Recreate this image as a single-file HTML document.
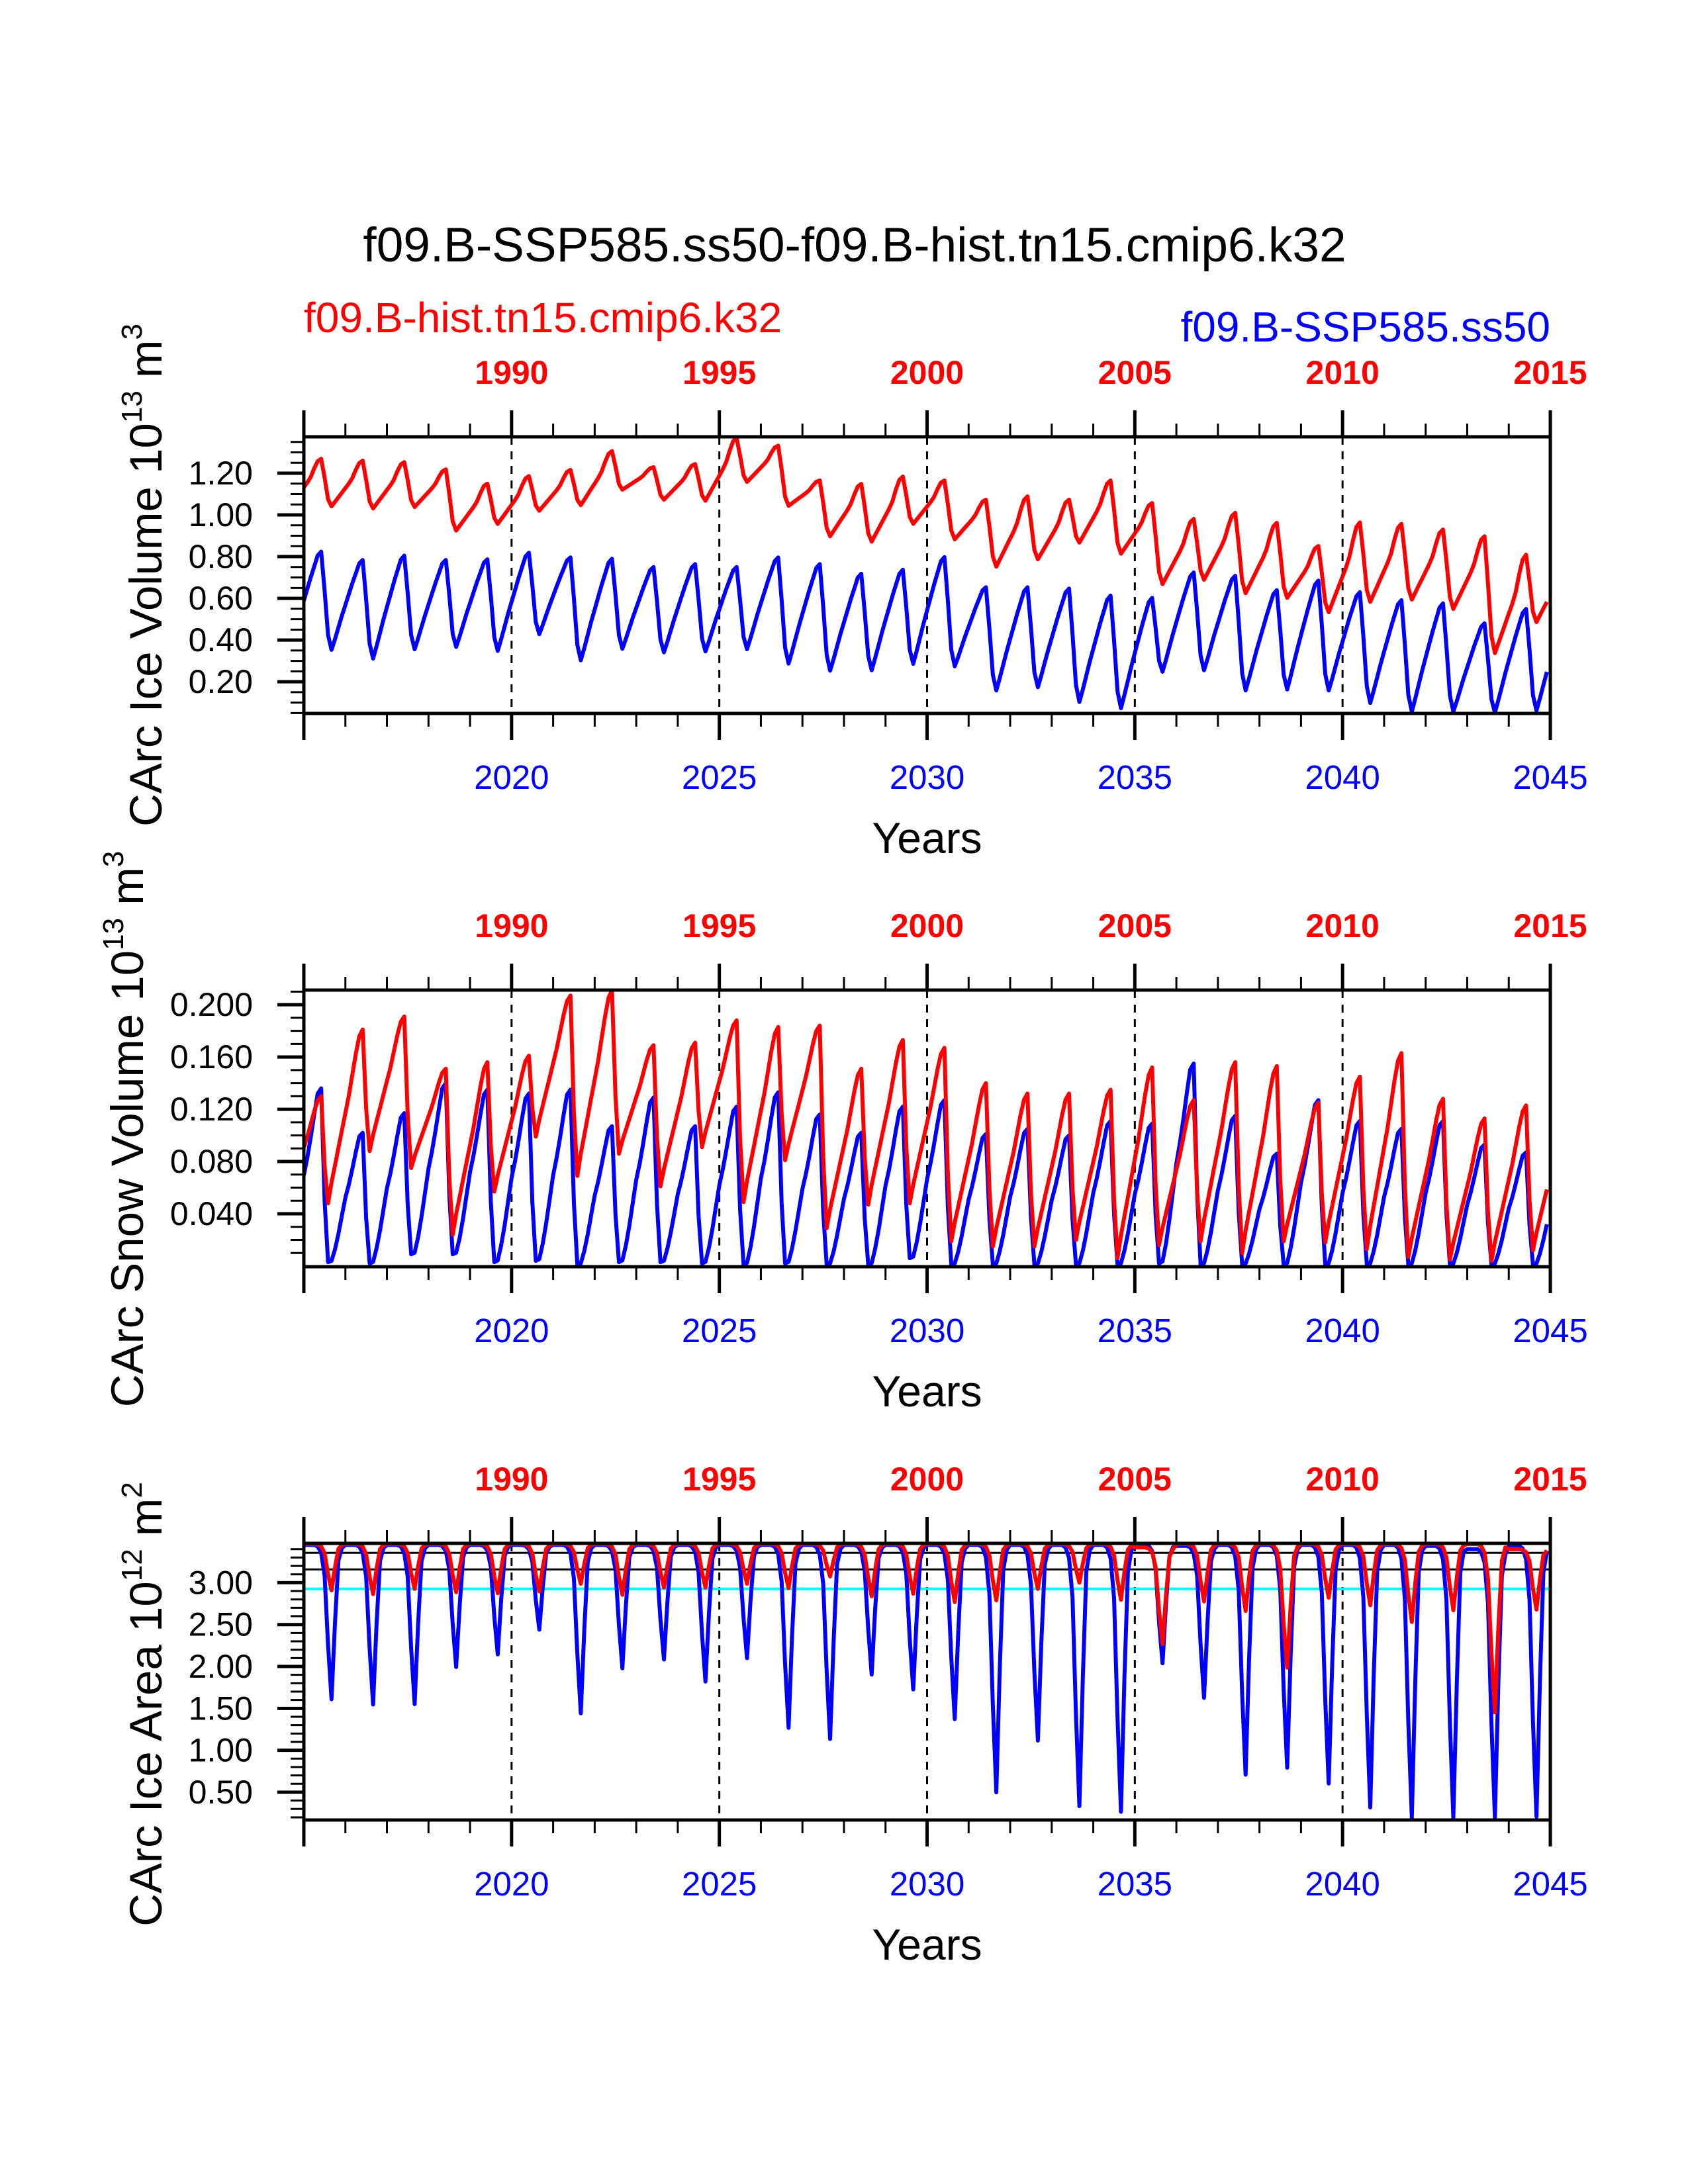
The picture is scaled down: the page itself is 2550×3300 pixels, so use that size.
<!DOCTYPE html>
<html><head><meta charset="utf-8"><style>
html,body{margin:0;padding:0;background:#fff;}
svg{display:block;font-family:"Liberation Sans",Arial,sans-serif;}
</style></head><body>
<svg id="chart" xmlns="http://www.w3.org/2000/svg" width="2550" height="3300" viewBox="0 0 2550 3300">
<rect x="0" y="0" width="2550" height="3300" fill="#fff"/>
<text x="1291" y="395" font-size="73" text-anchor="middle" fill="#000">f09.B-SSP585.ss50-f09.B-hist.tn15.cmip6.k32</text>
<text x="459" y="502" font-size="64" fill="#ff0000">f09.B-hist.tn15.cmip6.k32</text>
<text x="2342" y="516" font-size="64" text-anchor="end" fill="#0000ff">f09.B-SSP585.ss50</text>
<g id="plots"></g>
</svg>
<script>
// ---------- data (annual extremes, 2015..2044) ----------
const years = [2015,2016,2017,2018,2019,2020,2021,2022,2023,2024,2025,2026,2027,2028,2029,2030,2031,2032,2033,2034,2035,2036,2037,2038,2039,2040,2041,2042,2043,2044];
const topYearLabels = ["1990","1995","2000","2005","2010","2015"];
const bottomYearLabels = ["2020","2025","2030","2035","2040","2045"];

// Ice volume (1e13 m3)
const iceVolSspMax = [0.824,0.784,0.805,0.784,0.787,0.819,0.796,0.790,0.750,0.764,0.750,0.796,0.764,0.718,0.737,0.798,0.653,0.653,0.647,0.613,0.602,0.724,0.708,0.639,0.685,0.629,0.591,0.576,0.480,0.549];
const iceVolSspMin = [0.353,0.311,0.356,0.367,0.348,0.428,0.303,0.358,0.341,0.345,0.356,0.287,0.253,0.255,0.286,0.274,0.158,0.174,0.103,0.073,0.248,0.255,0.158,0.163,0.158,0.098,0.057,0.057,0.052,0.062];
const iceVolHistMax = [1.269,1.260,1.253,1.218,1.150,1.186,1.216,1.306,1.229,1.244,1.369,1.332,1.165,1.149,1.184,1.165,1.073,1.089,1.073,1.165,1.057,0.981,1.010,0.962,0.851,0.964,0.957,0.930,0.898,0.809];
const iceVolHistMin = [1.041,1.031,1.038,0.925,0.957,1.020,1.047,1.121,1.073,1.068,1.158,1.044,0.898,0.872,0.957,0.883,0.752,0.787,0.867,0.814,0.668,0.689,0.625,0.602,0.533,0.583,0.594,0.549,0.337,0.486];
// Snow volume (1e13 m3)
const snowSspMax = [0.136,0.102,0.117,0.140,0.135,0.132,0.135,0.107,0.129,0.107,0.122,0.133,0.116,0.102,0.122,0.127,0.101,0.105,0.100,0.111,0.109,0.155,0.115,0.086,0.127,0.111,0.105,0.111,0.093,0.087];
const snowSspMin = [0.003,0.002,0.009,0.009,0.003,0.004,0.001,0.003,0.003,0.002,0.001,0.002,0.001,0.001,0.006,0.001,0.001,0.001,0.001,0.001,0.002,0.001,0.001,0.001,0.001,0.001,0.001,0.001,0.001,0.001];
const snowHistMax = [0.130,0.181,0.191,0.151,0.156,0.161,0.207,0.211,0.169,0.171,0.188,0.183,0.184,0.151,0.173,0.167,0.140,0.132,0.132,0.135,0.152,0.127,0.156,0.153,0.125,0.145,0.163,0.128,0.113,0.123];
const snowHistMin = [0.048,0.088,0.075,0.024,0.057,0.099,0.069,0.086,0.061,0.091,0.049,0.081,0.029,0.047,0.048,0.019,0.015,0.015,0.020,0.006,0.016,0.019,0.010,0.019,0.018,0.013,0.007,0.005,0.004,0.012];
// Ice area (1e12 m2)
const areaSspMax = [3.45,3.45,3.45,3.45,3.45,3.45,3.45,3.45,3.45,3.45,3.45,3.45,3.45,3.45,3.45,3.45,3.45,3.45,3.45,3.45,3.45,3.44,3.45,3.45,3.45,3.45,3.45,3.44,3.40,3.44];
const areaSspMin = [1.609,1.546,1.551,1.994,2.144,2.439,1.440,1.978,2.083,1.820,2.099,1.267,1.135,1.904,1.725,1.372,0.497,1.116,0.334,0.266,2.038,1.625,0.708,0.792,0.603,0.318,0.194,0.194,0.194,0.208];
const areaHistMax = [3.46,3.46,3.46,3.46,3.46,3.46,3.46,3.46,3.46,3.46,3.46,3.46,3.46,3.46,3.46,3.46,3.46,3.46,3.46,3.46,3.42,3.46,3.46,3.46,3.46,3.46,3.46,3.46,3.46,3.40];
const areaHistMin = [2.908,2.863,2.926,2.887,2.874,2.895,2.987,2.855,2.942,2.942,2.987,2.934,3.074,2.837,2.868,2.768,2.789,2.926,3.000,2.795,2.268,2.776,2.663,1.986,2.821,2.731,2.531,2.671,1.451,2.679];
// Seasonal position (0 = annual minimum, 1 = annual maximum), Jan..Dec
const volSspSeason  = [0.50,0.62,0.74,0.85,0.96,1.00,0.60,0.15,0.00,0.12,0.25,0.38];
const volHistSeason = [0.40,0.50,0.62,0.80,0.95,1.00,0.60,0.15,0.00,0.10,0.20,0.30];
const snowSspSeason = [0.50,0.60,0.72,0.85,0.97,1.00,0.35,0.00,0.01,0.10,0.22,0.36];
const snowHistSeason= [0.52,0.62,0.74,0.86,0.96,1.00,0.35,0.00,0.12,0.22,0.32,0.42];
const areaSeason    = [1.00,1.00,1.00,1.00,0.99,0.95,0.80,0.35,0.00,0.50,0.90,0.98];
// Reference lines in ice area panel
const areaRefBlack = [3.356,3.158];
const areaRefCyan = [2.926];

// ---------- build monthly series ----------
function monthly(maxA, minA, season, P, T){
  const out=[];
  for(let y=0;y<maxA.length;y++){
    for(let m=0;m<12;m++){
      let lo=minA[y], hi=maxA[y];
      if(P>=0){
        if(m<=P){ lo = y>0?minA[y-1]:minA[y]; }
        else if(m>T){ hi = y<maxA.length-1?maxA[y+1]:maxA[y]; }
      }
      out.push(lo+season[m]*(hi-lo));
    }
  }
  return out;
}

const NS="http://www.w3.org/2000/svg";
const plots=document.getElementById('plots');
const X0=459, X1=2342, PH=418;
function xScale(t){ return X0+(t-2015)/30*(X1-X0); }
function mk(tag,attrs,parent){ const e=document.createElementNS(NS,tag); for(const k in attrs) e.setAttribute(k,attrs[k]); (parent||plots).appendChild(e); return e; }

const panels=[
 {name:'ice-volume', top:660, ymin:0.048, ymax:1.3746, major:[0.2,0.4,0.6,0.8,1.0,1.2], majorLbl:["0.20","0.40","0.60","0.80","1.00","1.20"], minorStep:0.05, minorFrom:0.05, minorTo:1.35,
  series:[['ssp',monthly(iceVolSspMax,iceVolSspMin,volSspSeason,5,8),'#0000ff'],['hist',monthly(iceVolHistMax,iceVolHistMin,volHistSeason,5,8),'#ff0000']],
  ylab:['CArc Ice Volume 10','13',' m','3'], ylx:244, yly:869},
 {name:'snow-volume', top:1496, ymin:-0.0005, ymax:0.2112, major:[0.04,0.08,0.12,0.16,0.2], majorLbl:["0.040","0.080","0.120","0.160","0.200"], minorStep:0.01, minorFrom:0.01, minorTo:0.21,
  series:[['ssp',monthly(snowSspMax,snowSspMin,snowSspSeason,5,7),'#0000ff'],['hist',monthly(snowHistMax,snowHistMin,snowHistSeason,5,7),'#ff0000']],
  ylab:['CArc Snow Volume 10','13',' m','3'], ylx:216, yly:1706},
 {name:'ice-area', top:2332, ymin:0.168, ymax:3.469, major:[0.5,1.0,1.5,2.0,2.5,3.0], majorLbl:["0.50","1.00","1.50","2.00","2.50","3.00"], minorStep:0.1, minorFrom:0.2, minorTo:3.4,
  series:[['ssp',monthly(areaSspMax,areaSspMin,areaSeason,-1,12),'#0000ff'],['hist',monthly(areaHistMax,areaHistMin,areaSeason,-1,12),'#ff0000']],
  ylab:['CArc Ice Area 10','12',' m','2'], ylx:244, yly:2575}
];

panels.forEach((p,pi)=>{
  const g=mk('g',{});
  
  
  const top=p.top, bot=top+PH;
  const yS=v=>bot-(v-p.ymin)/(p.ymax-p.ymin)*PH;
  const clipId='clip'+pi;
  const cp=mk('clipPath',{id:clipId},g); mk('rect',{x:X0,y:top,width:X1-X0,height:PH},cp);
  for(let k=0;k<5;k++){
    const x=xScale(2020+5*k);
    const l=mk('line',{x1:x,y1:top,x2:x,y2:bot,stroke:'#000','stroke-width':3,'stroke-dasharray':'12,10'},g);
    
    
  }
  if(pi===2){
    areaRefBlack.forEach(v=>{ const l=mk('line',{x1:X0,x2:X1,y1:yS(v),y2:yS(v),stroke:'#000','stroke-width':3},g);
      
       });
    areaRefCyan.forEach(v=>{ const l=mk('line',{x1:X0,x2:X1,y1:yS(v),y2:yS(v),stroke:'#00ffff','stroke-width':4},g);
      
       });
  }
  p.series.forEach(s=>{
    const pts=s[1].map((v,i)=>xScale(2015+i/12).toFixed(1)+','+yS(v).toFixed(1)).join(' ');
    const pl=mk('polyline',{points:pts,fill:'none',stroke:s[2],'stroke-width':6,'stroke-linejoin':'round','clip-path':'url(#'+clipId+')'},g);
    
    
  });
  const fr=mk('rect',{x:X0,y:top,width:X1-X0,height:PH,fill:'none',stroke:'#000','stroke-width':5},g);
  
  
  for(let yr=2015;yr<=2045;yr++){
    const x=xScale(yr); const maj=(yr%5===0);
    const len=maj?40:20, w=maj?5:3;
    mk('line',{x1:x,y1:top,x2:x,y2:top-len,stroke:'#000','stroke-width':w},g);
    mk('line',{x1:x,y1:bot,x2:x,y2:bot+len,stroke:'#000','stroke-width':w},g);
  }
  for(let k=0;k<6;k++){
    const x=xScale(2020+5*k);
    const t1=mk('text',{x:x,y:top-80,'font-size':50,'font-weight':'bold','text-anchor':'middle',fill:'#ff0000'},g);
    t1.textContent=topYearLabels[k];
    
    
    const t2=mk('text',{x:x,y:bot+114,'font-size':51,'text-anchor':'middle',fill:'#0000ff'},g);
    t2.textContent=bottomYearLabels[k];
    
    
  }
  const nMin=Math.round((p.minorTo-p.minorFrom)/p.minorStep);
  for(let i=0;i<=nMin;i++){ const v=p.minorFrom+i*p.minorStep; const y=yS(v);
    mk('line',{x1:X0,y1:y,x2:X0-20,y2:y,stroke:'#000','stroke-width':3},g); }
  p.major.forEach((v,i)=>{ const y=yS(v);
    mk('line',{x1:X0,y1:y,x2:X0-40,y2:y,stroke:'#000','stroke-width':5},g);
    const t=mk('text',{x:382,y:y+17,'font-size':50,'text-anchor':'end',fill:'#000'},g);
    t.textContent=p.majorLbl[i];
    
    
  });
  const xt=mk('text',{x:(X0+X1)/2,y:bot+211,'font-size':66,'text-anchor':'middle',fill:'#000'},g);
  xt.textContent='Years';
  
  
  const yt=mk('text',{transform:'translate('+p.ylx+','+p.yly+') rotate(-90)','font-size':69,'text-anchor':'middle',fill:'#000'},g);
  
  
  const a=mk('tspan',{},yt); a.textContent=p.ylab[0];
  const b=mk('tspan',{dy:-30,'font-size':44},yt); b.textContent=p.ylab[1];
  const c=mk('tspan',{dy:30},yt); c.textContent=p.ylab[2];
  const d=mk('tspan',{dy:-30,'font-size':44},yt); d.textContent=p.ylab[3];
});
</script>
</body></html>
